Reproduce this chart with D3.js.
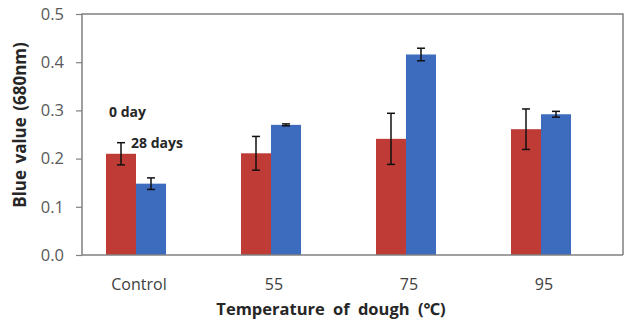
<!DOCTYPE html>
<html><head><meta charset="utf-8">
<script src="https://cdn.jsdelivr.net/npm/d3@7"></script>
<style>body{margin:0;background:#fff}svg{display:block}</style>
</head><body>
<script>
const categories = ["Control", "55", "75", "95"];
const seriesNames = ["0 day", "28 days"];
const day0 = [0.210, 0.211, 0.241, 0.261];
const day0Err = [0.023, 0.035, 0.053, 0.042];
const day28 = [0.148, 0.270, 0.416, 0.292];
const day28Err = [0.012, 0.002, 0.013, 0.006];
const yTicks = [0.0, 0.1, 0.2, 0.3, 0.4, 0.5];
const colors = ["#BE3B36", "#3D6BBE"];

(function () {
const W = 629, H = 329;
const svg = d3.select("body").append("svg").attr("width", W).attr("height", H);
const mLeft = 82, mRight = 623, mTop = 14, mBottom = 255;
const y = d3.scaleLinear().domain([0, 0.5]).range([mBottom, mTop]);
const x = d3.scalePoint().domain(categories).range([136, 541]);
const bw = 30;
const font = "'Open Sans', 'Noto Sans', sans-serif";

// frame
svg.append("path").attr("d", `M${mLeft},${mBottom}V${mTop}H${mRight}V${mBottom}`)
  .attr("fill", "none").attr("stroke", "#808080").attr("stroke-width", 1.5);

const series = [
  {vals: day0, errs: day0Err, off: -bw, color: colors[0]},
  {vals: day28, errs: day28Err, off: 0, color: colors[1]}
];
series.forEach(s => {
  const g = svg.append("g");
  g.selectAll("rect").data(categories).join("rect")
    .attr("x", (c) => x(c) + s.off)
    .attr("width", bw)
    .attr("y", (c, i) => y(s.vals[i]))
    .attr("height", (c, i) => mBottom - y(s.vals[i]))
    .attr("fill", s.color);
});
series.forEach(s => {
  const g = svg.append("g").attr("stroke", "#111").attr("stroke-width", 1.5);
  categories.forEach((c, i) => {
    const cx = x(c) + s.off + bw / 2;
    const y1 = y(s.vals[i] + s.errs[i]), y2 = y(s.vals[i] - s.errs[i]);
    g.append("line").attr("x1", cx).attr("x2", cx).attr("y1", y1).attr("y2", y2);
    g.append("line").attr("x1", cx - 4).attr("x2", cx + 4).attr("y1", y1).attr("y2", y1);
    g.append("line").attr("x1", cx - 4).attr("x2", cx + 4).attr("y1", y2).attr("y2", y2);
  });
});

// bottom axis line
svg.append("line").attr("x1", mLeft).attr("x2", mRight).attr("y1", mBottom).attr("y2", mBottom)
  .attr("stroke", "#808080").attr("stroke-width", 1.5);

// y axis
const yAxis = d3.axisLeft(y).tickValues(yTicks).tickFormat(d3.format(".1f")).tickSize(6).tickPadding(12);
const ga = svg.append("g").attr("transform", `translate(${mLeft},0)`).call(yAxis);
ga.select(".domain").remove();
ga.selectAll(".tick line").attr("stroke", "#808080").attr("stroke-width", 1.2);
ga.selectAll(".tick text").attr("font-family", font).attr("font-size", 16.5).attr("fill", "#595959");

// x labels
svg.append("g").selectAll("text").data(categories).join("text")
  .attr("x", c => x(c) + 3).attr("y", 290).attr("text-anchor", "middle")
  .attr("font-family", font).attr("font-size", 16).attr("fill", "#404040").text(c => c);

// titles
svg.append("text").attr("x", 331).attr("y", 315).attr("text-anchor", "middle")
  .attr("font-family", font).attr("font-size", 16.5).attr("font-weight", "bold").attr("fill", "#262626")
  .attr("word-spacing", 4)
  .text("Temperature of dough (℃)");
svg.append("text").attr("transform", "translate(26,125) rotate(-90)").attr("text-anchor", "middle")
  .attr("font-family", font).attr("font-size", 17).attr("font-weight", "bold").attr("fill", "#262626")
  .attr("word-spacing", 2)
  .text("Blue value (680nm)");

// series labels
svg.append("text").attr("x", 109).attr("y", 117).attr("font-family", font).attr("font-size", 14)
  .attr("font-weight", "bold").attr("fill", "#262626").text(seriesNames[0]);
svg.append("text").attr("x", 131).attr("y", 148).attr("font-family", font).attr("font-size", 14)
  .attr("font-weight", "bold").attr("fill", "#262626").text(seriesNames[1]);
})();
</script>
</body></html>
